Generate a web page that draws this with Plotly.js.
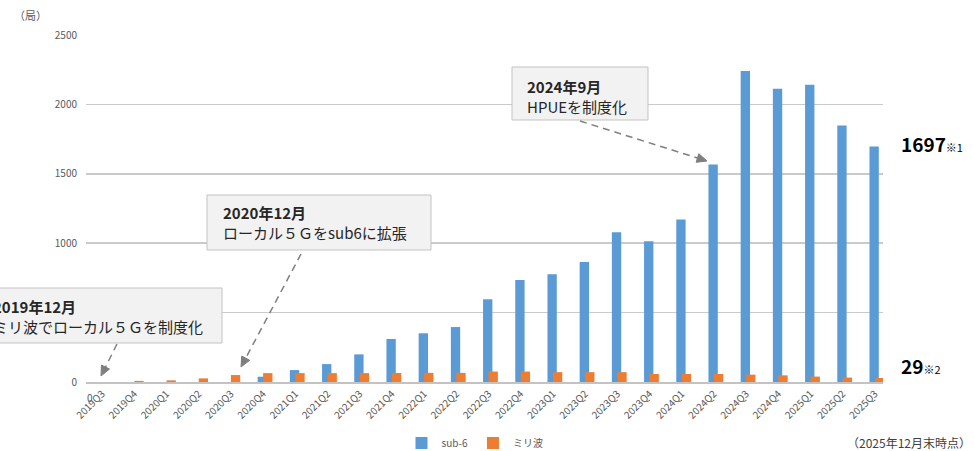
<!DOCTYPE html>
<html>
<head>
<meta charset="utf-8">
<script src="https://cdn.plot.ly/plotly-3.0.1.min.js"></script>
<style>html,body{margin:0;padding:0;background:#fff;}#chart{width:974px;height:451px;}</style>
</head>
<body>
<div id="chart"></div>
<script>
// ---- data ----
const categories = ['2019Q3','2019Q4','2020Q1','2020Q2','2020Q3','2020Q4','2021Q1','2021Q2','2021Q3','2021Q4',
  '2022Q1','2022Q2','2022Q3','2022Q4','2023Q1','2023Q2','2023Q3','2023Q4','2024Q1','2024Q2',
  '2024Q3','2024Q4','2025Q1','2025Q2','2025Q3'];
const sub6 = [0,0,0,0,0,38,86,129,199,310,351,396,596,735,776,865,1079,1014,1170,1567,2240,2113,2142,1848,1697];
const mmwave = [0,8,12,26,50,64,64,64,64,65,66,66,75,75,71,71,71,58,58,58,53,48,39,32,29];
const seriesNames = ['sub-6','ミリ波'];
const yTicks = [0,500,1000,1500,2000,2500];

// ---- layout geometry (pixels) ----
const L = 86, R = 883, T = 35, B = 382, FW = 974, FH = 451;
const W = R - L, H = B - T;
const X = p => (p - L) / W;
const Y = p => (B - p) / H;

const FONT = "'Noto Sans CJK JP', 'Noto Sans', sans-serif";
const GRAY = '#595959';

const traces = [
  {type:'bar', name:seriesNames[0], x:categories, y:sub6, marker:{color:'#5B9BD5'},
   offset:-0.17, width:0.29, hoverinfo:'x+y'},
  {type:'bar', name:seriesNames[1], x:categories, y:mmwave, marker:{color:'#ED7D31'},
   offset:0, width:0.29, hoverinfo:'x+y'}
];

const shapes = [];
const annotations = [];

function box(x0, y0, x1, y1) {
  shapes.push({type:'rect', xref:'paper', yref:'paper', x0:X(x0), x1:X(x1), y0:Y(y0), y1:Y(y1),
    fillcolor:'#f2f2f2', line:{color:'#c3c3c3', width:1}, layer:'above'});
}
function arrow(x0, y0, x1, y1) {
  const dx = x1 - x0, dy = y1 - y0, len = Math.hypot(dx, dy);
  const ux = dx / len, uy = dy / len, hl = 10, hw = 4.5;
  const bx = x1 - ux * hl, by = y1 - uy * hl;
  shapes.push({type:'line', xref:'paper', yref:'paper', x0:X(x0), y0:Y(y0), x1:X(bx), y1:Y(by),
    line:{color:'#7f7f7f', width:1.5, dash:'7px,5px'}, layer:'above'});
  const p1 = [bx - uy * hw, by + ux * hw], p2 = [bx + uy * hw, by - ux * hw];
  shapes.push({type:'path', xref:'paper', yref:'paper',
    path:`M ${X(x1)},${Y(y1)} L ${X(p1[0])},${Y(p1[1])} L ${X(p2[0])},${Y(p2[1])} Z`,
    fillcolor:'#7f7f7f', line:{color:'#7f7f7f', width:1}, layer:'above'});
}
function note(x, y, text, opts) {
  annotations.push(Object.assign({xref:'paper', yref:'paper', x:X(x), y:Y(y), text:text,
    showarrow:false, xanchor:'left', yanchor:'middle', align:'left',
    font:{family:FONT, size:15, color:'#262626'}}, opts || {}));
}

// callout boxes
box(512, 67, 648, 120);
note(525, 96, '<b>2024年9月</b><br>HPUEを制度化');
arrow(580, 121, 707, 161);

box(207, 195, 431, 250);
note(221, 222, '<b>2020年12月</b><br>ローカル５Ｇをsub6に拡張');
arrow(301, 254, 241, 367);

box(-6, 288, 222, 343);
note(-9, 316, '<b>2019年12月</b><br>ミリ波でローカル５Ｇを制度化');
arrow(117, 344, 101, 376);

// right-hand value labels
note(899, 143, '<b>' + sub6[sub6.length-1] + '</b><span style="font-size:11px">※1</span>',
  {font:{family:FONT, size:19, color:'#000'}});
note(899, 365, '<b>' + mmwave[mmwave.length-1] + '</b><span style="font-size:11px">※2</span>',
  {font:{family:FONT, size:19, color:'#000'}});

// unit & footnote
note(12, 15, '（局）', {font:{family:FONT, size:11, color:GRAY}});
note(973, 442, '（2025年12月末時点）', {xanchor:'right', font:{family:FONT, size:12, color:'#404040'}});

// data label "0" for the first category
annotations.push({xref:'x', yref:'y', x:categories[0], y:0, text:String(sub6[0]), showarrow:false,
  xshift:-12, yshift:-15, font:{family:FONT, size:10, color:GRAY}});

const layout = {
  width:FW, height:FH,
  margin:{l:L, r:FW-R, t:T, b:FH-B, autoexpand:false},
  paper_bgcolor:'#fff', plot_bgcolor:'#fff',
  barmode:'overlay',
  font:{family:FONT, size:10, color:GRAY},
  xaxis:{type:'category', range:[-0.5, 24.25], tickangle:-45, showgrid:false,
    showline:true, linecolor:'#c3c3c3', linewidth:2, ticks:'', tickfont:{family:FONT, size:10, color:GRAY},
    fixedrange:true},
  yaxis:{range:[0, 2500], tickvals:yTicks, ticktext:yTicks.map(String), showgrid:true,
    gridcolor:'#cacaca', gridwidth:1.5, zeroline:false, showline:false, ticks:'',
    ticklabelstandoff:8, tickfont:{family:FONT, size:10, color:GRAY}, fixedrange:true},
  showlegend:true,
  legend:{orientation:'h', x:X(475), xanchor:'center', y:Y(443), yanchor:'middle',
    font:{family:FONT, size:10, color:GRAY}, bgcolor:'rgba(0,0,0,0)', itemwidth:30},
  shapes:shapes,
  annotations:annotations
};

Plotly.newPlot('chart', traces, layout, {displayModeBar:false, staticPlot:true});
</script>
</body>
</html>
